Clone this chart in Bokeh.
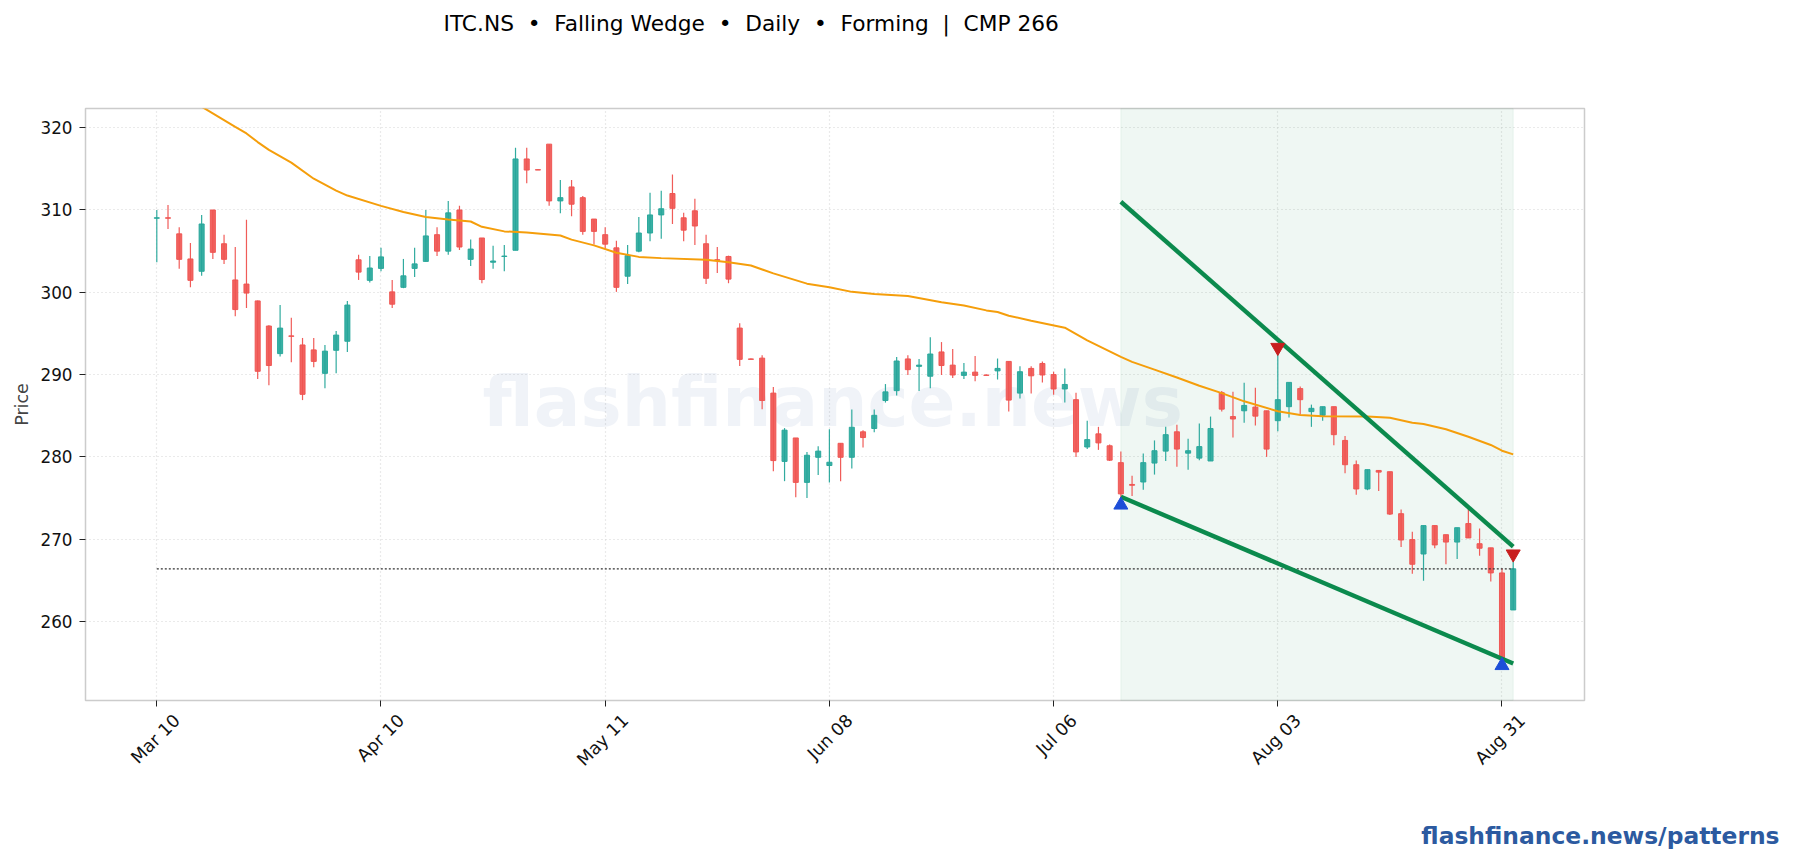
from math import pi
from bokeh.plotting import figure
from bokeh.models import ColumnDataSource, FixedTicker, Label, BoxAnnotation, Range1d, Title, LinearAxis
from bokeh.embed import file_html
from bokeh.resources import INLINE

TITLE = "ITC.NS \u00a0•\u00a0 Falling Wedge \u00a0•\u00a0 Daily \u00a0•\u00a0 Forming \u00a0|\u00a0 CMP 266"
WATERMARK = "flashfinance.news"
FOOTER = "flashfinance.news/patterns"

tick_idx = [0, 20, 40, 60, 80, 100, 120]
tick_labels = ["Mar 10", "Apr 10", "May 11", "Jun 08", "Jul 06", "Aug 03", "Aug 31"]
y_ticks = [260, 270, 280, 290, 300, 310, 320]

opens = [309.0, 309.05, 307.1, 304.05, 302.55, 310.0, 305.9, 301.5, 301.0, 298.95,
         295.9, 292.55, 294.7, 293.6, 293.0, 290.15, 292.95, 294.05, 303.95, 301.45,
         302.9, 300.05, 300.6, 302.9, 303.75, 307.0, 305.0, 310.0, 304.0, 306.6,
         303.65, 304.35, 305.1, 316.2, 314.9, 318.0, 311.1, 312.8, 311.5, 308.9,
         307.0, 305.4, 301.95, 305.0, 307.2, 309.4, 312.0, 309.05, 309.9, 305.9,
         303.95, 304.35, 295.65, 291.9, 292.0, 287.75, 279.45, 282.3, 276.9, 279.95,
         278.95, 281.65, 279.95, 283.05, 283.45, 286.85, 288.05, 291.9, 291.0, 289.8,
         292.75, 291.15, 289.9, 290.3, 289.95, 290.45, 291.6, 287.75, 290.75, 291.35,
         290.0, 288.25, 286.95, 281.2, 282.8, 281.35, 279.3, 276.65, 276.95, 279.25,
         280.7, 283.05, 280.45, 279.85, 279.5, 287.8, 284.9, 285.6, 286.05, 285.6,
         284.4, 286.1, 288.3, 285.5, 285.05, 286.1, 282.0, 279.05, 276.1, 278.35,
         278.2, 273.1, 269.95, 268.2, 271.65, 270.55, 269.65, 271.9, 269.45, 268.95,
         265.9, 261.4]
highs = [310.0, 310.6, 307.9, 306.0, 309.4, 310.0, 307.0, 305.5, 308.8, 299.0,
         296.0, 298.45, 296.9, 294.45, 294.45, 293.6, 295.3, 298.95, 304.55, 304.4,
         305.4, 301.5, 304.05, 305.4, 310.0, 307.9, 311.1, 310.5, 306.4, 306.6,
         305.65, 305.75, 317.55, 317.55, 314.95, 318.0, 313.65, 313.65, 311.7, 308.9,
         307.9, 306.25, 305.75, 309.15, 312.1, 312.35, 314.3, 309.65, 311.35, 307.0,
         305.5, 304.45, 296.25, 291.95, 292.35, 288.5, 283.5, 282.3, 280.6, 281.3,
         283.35, 281.65, 285.75, 283.25, 285.75, 288.85, 292.15, 292.35, 291.9, 294.55,
         293.95, 293.1, 291.4, 292.25, 290.0, 291.95, 291.6, 291.0, 291.0, 291.6,
         290.35, 290.75, 287.8, 284.4, 283.65, 281.5, 280.65, 277.7, 280.4, 282.0,
         283.65, 283.9, 282.2, 284.05, 284.9, 288.0, 287.9, 289.0, 288.4, 285.6,
         293.2, 289.05, 288.55, 286.35, 286.1, 286.1, 282.55, 279.55, 278.45, 278.4,
         278.2, 273.6, 270.9, 271.65, 271.65, 270.55, 271.4, 274.0, 271.3, 268.95,
         266.45, 268.2]
lows = [303.65, 307.7, 302.85, 300.6, 302.0, 304.05, 303.45, 297.1, 298.1, 289.45,
        288.7, 292.2, 291.5, 286.9, 290.9, 288.35, 290.15, 292.75, 301.5, 301.2,
        302.55, 298.1, 300.5, 301.85, 303.75, 304.4, 304.55, 305.15, 303.2, 301.1,
        302.85, 302.55, 305.1, 313.25, 314.85, 310.5, 309.6, 309.25, 307.0, 305.8,
        305.3, 300.05, 301.0, 304.85, 306.2, 306.5, 308.3, 306.2, 305.75, 301.0,
        302.35, 301.1, 291.05, 291.85, 285.8, 278.25, 277.05, 275.1, 275.0, 277.8,
        276.9, 277.05, 278.6, 281.15, 283.0, 286.6, 287.45, 289.95, 288.0, 288.35,
        289.95, 289.6, 289.45, 289.2, 289.9, 289.4, 285.5, 287.1, 287.7, 289.05,
        287.55, 286.6, 280.0, 280.95, 280.85, 279.5, 275.1, 275.25, 276.0, 277.85,
        279.5, 278.8, 278.45, 279.6, 279.5, 285.5, 282.35, 284.15, 283.8, 280.0,
        283.1, 284.8, 285.15, 283.65, 284.4, 281.4, 278.0, 275.4, 275.95, 275.85,
        272.95, 269.05, 265.8, 264.95, 268.9, 266.95, 267.6, 270.15, 268.0, 264.85,
        254.85, 261.4]
closes = [309.05, 309.0, 304.0, 301.45, 308.3, 304.85, 304.0, 297.9, 299.9, 290.4,
          291.1, 295.65, 294.65, 287.6, 291.6, 292.85, 294.8, 298.45, 302.45, 302.95,
          304.3, 298.55, 302.0, 303.45, 306.85, 305.0, 309.65, 305.5, 305.25, 301.55,
          303.8, 304.4, 316.2, 314.85, 314.85, 311.1, 311.5, 310.7, 307.4, 307.4,
          305.85, 300.6, 304.45, 307.2, 309.4, 310.15, 310.2, 307.55, 308.05, 301.7,
          303.9, 301.6, 291.85, 291.85, 286.85, 279.55, 283.25, 276.9, 280.2, 280.7,
          279.35, 279.95, 283.6, 282.35, 285.05, 287.9, 291.65, 290.6, 291.15, 292.5,
          291.1, 289.95, 290.3, 289.9, 289.9, 290.75, 286.9, 290.35, 289.85, 289.95,
          288.25, 288.8, 280.6, 282.1, 281.7, 279.6, 275.5, 276.55, 279.3, 280.75,
          282.7, 280.95, 280.75, 281.25, 283.45, 285.8, 284.6, 286.25, 284.95, 280.95,
          286.95, 289.05, 286.95, 285.9, 286.1, 282.7, 279.05, 276.1, 278.45, 278.15,
          273.05, 269.9, 266.95, 271.65, 269.3, 269.65, 271.4, 270.15, 268.9, 265.9,
          255.45, 266.4]

ema_idx = [3, 4, 7, 8, 9, 10, 12, 14, 16, 17, 20, 22, 24, 26, 28, 29, 31, 33, 36, 37, 39, 41, 43,
           45, 49, 51, 53, 55, 58, 60, 62, 64, 67, 70, 72, 74, 75, 76, 78, 81, 83, 86, 87, 89, 91,
           93, 95, 97, 100, 102, 104, 108, 110, 112, 113, 115, 117, 119, 120, 121]
ema_val = [323.2, 322.55, 320.1, 319.3, 318.25, 317.3, 315.75, 313.8, 312.35, 311.75, 310.5, 309.75,
           309.15, 308.85, 308.6, 307.95, 307.4, 307.25, 306.9, 306.4, 305.7, 304.8, 304.3, 304.15,
           303.95, 303.65, 303.25, 302.3, 301.05, 300.6, 300.05, 299.8, 299.55, 298.8, 298.4, 297.8,
           297.6, 297.15, 296.55, 295.7, 294.15, 292.15, 291.55, 290.6, 289.65, 288.65, 287.75, 286.75,
           285.55, 285.1, 284.95, 284.9, 284.75, 284.15, 284.0, 283.35, 282.45, 281.45, 280.75, 280.3]

upper_idx = [86, 121]
upper_val = [311.0, 269.1]
lower_idx = [86, 121]
lower_val = [275.15, 254.9]
cmp_idx = [0, 121]
cmp_val = [266.4, 266.4]
peak_idx = [100, 121]
peak_val = [293.3, 268.2]
trough_idx = [86, 120]
trough_val = [274.15, 254.65]
band_left, band_right = 86, 121

RED, TEAL = "#ef5350", "#26a69a"
FONT = "DejaVu Sans"
LABEL_SHIFT = 1.8

p = figure(width=1785, height=852, output_backend="svg", toolbar_location=None,
           x_range=Range1d(-6.36, 127.36), y_range=Range1d(250.4, 322.33),
           min_border_left=85, min_border_right=201, min_border_top=108, min_border_bottom=152,
           background_fill_color="white", border_fill_color="white")

p.outline_line_color = "#cccccc"
p.outline_line_width = 1.5

p.xaxis.ticker = FixedTicker(ticks=tick_idx)
p.xaxis.major_label_text_font_size = "1px"
p.xaxis.major_label_text_color = None
p.xaxis.major_label_standoff = 0
p.yaxis.ticker = FixedTicker(ticks=y_ticks)
p.yaxis.axis_label = "Price"
p.yaxis.axis_label_text_font = FONT
p.yaxis.axis_label_text_font_style = "normal"
p.yaxis.axis_label_text_font_size = "17.5px"
p.yaxis.axis_label_text_color = "#444444"
p.yaxis.axis_label_standoff = 5
p.yaxis.major_label_text_font = FONT
p.yaxis.major_label_text_font_size = "16.8px"
p.yaxis.major_label_text_color = "#111111"
p.yaxis.major_label_standoff = 7
for ax in (p.xaxis, p.yaxis):
    ax.axis_line_color = None
    ax.major_tick_line_color = "#222222"
    ax.major_tick_line_width = 1
    ax.major_tick_out = 6
    ax.major_tick_in = 0
    ax.minor_tick_line_color = None

shifted = [t + LABEL_SHIFT for t in tick_idx]
label_axis = LinearAxis(ticker=FixedTicker(ticks=shifted),
                        major_label_overrides=dict(zip(shifted, tick_labels)),
                        major_label_orientation=pi / 4, major_label_text_font=FONT,
                        major_label_text_font_size="17.5px", major_label_text_color="#111111",
                        major_label_standoff=11, axis_line_color=None, major_tick_line_color=None,
                        minor_tick_line_color=None, major_tick_out=0, major_tick_in=0)
p.add_layout(label_axis, "below")


def spacer(px):
    return LinearAxis(ticker=FixedTicker(ticks=tick_idx[:1]), axis_line_color=None, major_tick_line_color=None,
                      minor_tick_line_color=None, major_tick_out=px, major_tick_in=0,
                      major_label_text_font_size="1px", major_label_text_color=None, major_label_standoff=0)


p.add_layout(spacer(65), "above")
p.add_layout(spacer(39), "below")

p.xgrid.ticker = FixedTicker(ticks=tick_idx)
p.xgrid.grid_line_color = p.ygrid.grid_line_color = "#d5d5d5"
p.xgrid.grid_line_dash = p.ygrid.grid_line_dash = "1 3"
p.xgrid.grid_line_width = p.ygrid.grid_line_width = 1.2

p.add_layout(Label(x=60.3, y=286.7, text=WATERMARK, text_font=FONT, text_font_style="bold",
                   text_font_size="69.2px", text_color="#2c5aa0", text_alpha=0.07,
                   text_align="center", text_baseline="middle", level="underlay"))
p.add_layout(BoxAnnotation(left=band_left, right=band_right, fill_color="#0b8a4d", fill_alpha=0.065,
                           line_color="#0b8a4d", line_alpha=0.07, line_width=1, level="underlay"))

colors = [TEAL if c >= o else RED for o, c in zip(opens, closes)]
src = ColumnDataSource(dict(x=list(range(len(opens))), o=opens, h=highs, l=lows, c=closes, color=colors))
p.segment("x", "h", "x", "l", source=src, line_color="color", line_width=1.2, line_alpha=0.95)
p.vbar("x", 0.45, "o", "c", source=src, fill_color="color", line_color="color",
       fill_alpha=0.9, line_alpha=0.95, line_width=1)

p.line(ema_idx, ema_val, line_color="#f59e0b", line_width=2)
p.line(cmp_idx, cmp_val, line_color="#333333", line_width=1.3, line_dash="2 2")
p.line(upper_idx, upper_val, line_color="#0b8a4d", line_width=4.4)
p.line(lower_idx, lower_val, line_color="#0b8a4d", line_width=4.4)
p.scatter(peak_idx, peak_val, marker="inverted_triangle", size=14, fill_color="#c81e1e", line_color="#c81e1e")
p.scatter(trough_idx, trough_val, marker="triangle", size=14, fill_color="#1d4ed8", line_color="#1d4ed8")

p.add_layout(Title(text=TITLE, text_font=FONT, text_font_size="21.7px", text_font_style="normal",
                   text_color="#000000", align="left", offset=358, standoff=15), "above")
p.add_layout(Title(text=FOOTER, text_font=FONT, text_font_style="bold", text_font_size="23.4px",
                   text_color="#2c5aa0", align="right", offset=-195, standoff=3), "below")

open("out.html", "w").write(file_html(p, INLINE))
